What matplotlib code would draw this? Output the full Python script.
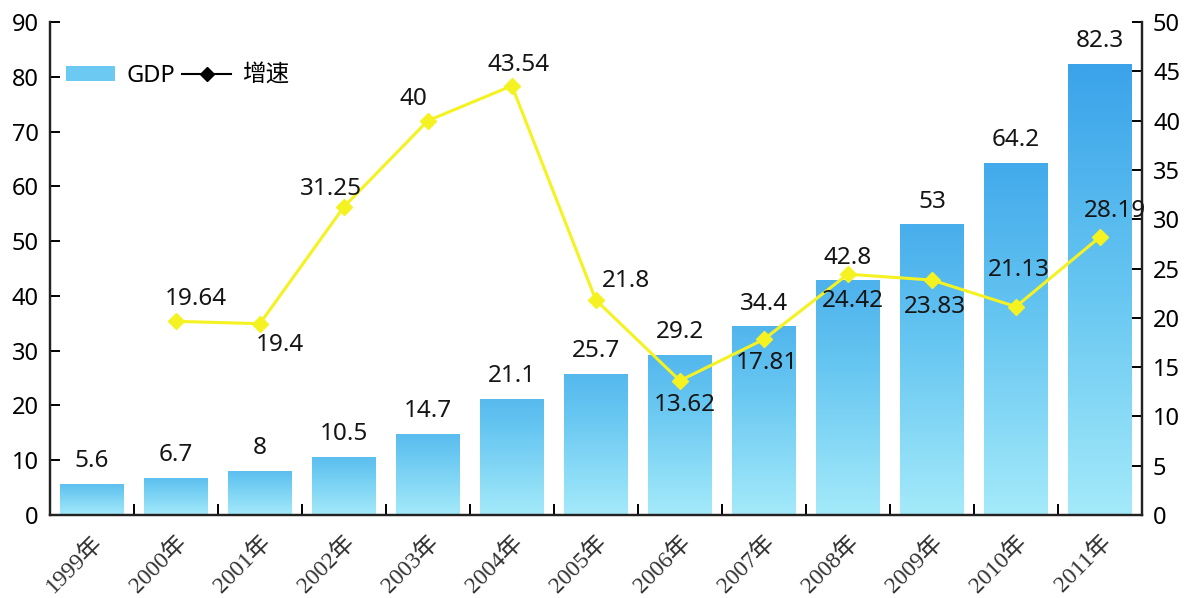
import numpy as np
import matplotlib
matplotlib.use("Agg")
import matplotlib.pyplot as plt
from matplotlib.lines import Line2D
from matplotlib.patches import Patch
from matplotlib.colors import LinearSegmentedColormap

plt.rcParams['font.family'] = ['Noto Sans', 'Noto Sans CJK SC', 'DejaVu Sans']

# data
years = ["1999年", "2000年", "2001年", "2002年", "2003年", "2004年", "2005年",
         "2006年", "2007年", "2008年", "2009年", "2010年", "2011年"]
gdp = [5.6, 6.7, 8, 10.5, 14.7, 21.1, 25.7, 29.2, 34.4, 42.8, 53, 64.2, 82.3]
growth = [None, 19.64, 19.4, 31.25, 40, 43.54, 21.8, 13.62, 17.81, 24.42, 23.83, 21.13, 28.19]
growth_labels = ["", "19.64", "19.4", "31.25", "40", "43.54", "21.8", "13.62",
                 "17.81", "24.42", "23.83", "21.13", "28.19"]

# label offsets for the growth numbers (pixels)
growth_off = [(0, 0), (20, 22), (20, -21), (-13, 18), (-14, 22), (7, 21), (30, 19),
              (5, -24), (3, -24), (5, -27), (3, -27), (3, 37), (15, 26)]

fig = plt.figure(figsize=(11.87, 5.98), dpi=100)
ax = fig.add_axes([0.042, 0.139, 0.92, 0.824])
ax2 = ax.twinx()

x = np.arange(len(years))
bars = ax.bar(x, gdp, width=0.75, color='none', edgecolor='none', zorder=2)

# vertical gradient in each bar: light at the bottom, blue at the top
cmap = LinearSegmentedColormap.from_list("gdp", ["#a4eafa", "#66c6f1", "#3aa3ea"])
grad = np.linspace(0, 1, 256).reshape(-1, 1)
for b in bars:
    x0, w, h = b.get_x(), b.get_width(), b.get_height()
    hi = 0.55 + 0.45 * h / max(gdp)
    ax.imshow(grad * hi, cmap=cmap, vmin=0, vmax=1, aspect='auto',
              origin='lower', extent=[x0, x0 + w, 0, h], zorder=2)

for xi, v in zip(x, gdp):
    ax.annotate(f"{v:g}", (xi, v), xytext=(0, 23), textcoords='offset pixels',
                ha='center', va='center', fontsize=17.5, color='#151515', zorder=5)

ax.set_xlim(-0.5, 12.5)
ax.set_ylim(0, 90)
ax.set_yticks(range(0, 91, 10))
ax2.set_ylim(0, 50)
ax2.set_yticks(range(0, 51, 5))

gx = [xi for xi, g in zip(x, growth) if g is not None]
gy = [g for g in growth if g is not None]
ax2.plot(gx, gy, color='#f5f222', lw=2.2, marker='D', ms=8,
         markerfacecolor='#f5f222', markeredgecolor='#f5f222', zorder=4)
for xi, g, lab, off in zip(x, growth, growth_labels, growth_off):
    if g is None:
        continue
    ax2.annotate(lab, (xi, g), xytext=off, textcoords='offset pixels',
                 ha='center', va='center', fontsize=17.5, color='#151515', zorder=5)

# axes styling
for a in (ax, ax2):
    a.spines['top'].set_visible(False)
    for s in ('left', 'right', 'bottom'):
        a.spines[s].set_linewidth(1.6)
        a.spines[s].set_color('#222222')
ax.tick_params(axis='y', direction='in', length=7, width=1.4, labelsize=17, pad=8)
ax2.tick_params(axis='y', direction='in', length=7, width=1.4, labelsize=17, pad=8)

ax.set_xticks(x)
ax.set_xticklabels(years, rotation=45, ha='right', rotation_mode='anchor',
                   family=['Liberation Serif', 'Noto Sans CJK SC'], fontsize=17,
                   color='#333333')
ax.tick_params(axis='x', length=0, pad=12)
ax.set_xticks(np.arange(0.5, 12, 1), minor=True)
ax.tick_params(axis='x', which='minor', direction='in', length=8, width=1.4)

handles = [Patch(facecolor='#6cc9f2', edgecolor='none'),
           Line2D([0], [0], color='black', lw=1.5, marker='D', ms=7)]
ax.legend(handles, ['GDP', '增速'], loc='upper left', bbox_to_anchor=(0.006, 0.935),
          borderaxespad=0, ncol=2, frameon=False, fontsize=17, handlelength=2.1,
          handleheight=0.6, columnspacing=0.3, handletextpad=0.45)

fig.savefig("out.png", dpi=100)
